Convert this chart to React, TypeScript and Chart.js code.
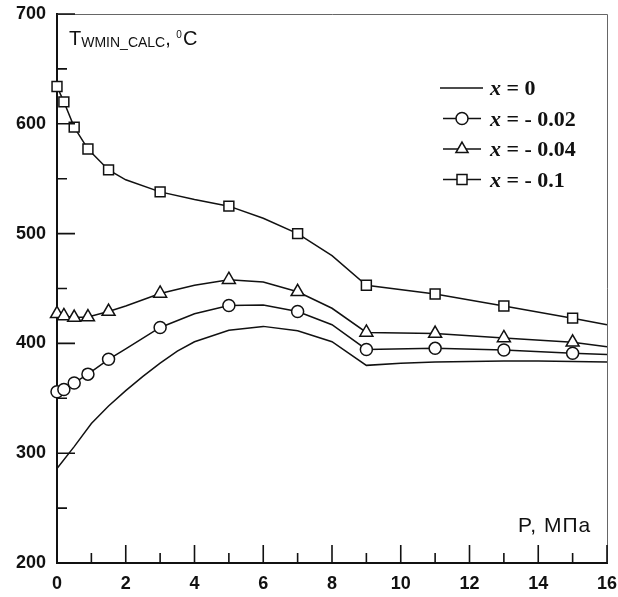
import React, { useEffect, useRef } from "react";
import { Chart, registerables } from "chart.js";

Chart.register(...registerables);

// Pressures (MPa) at which the marker curves were read
const pressure = [0, 0.2, 0.5, 0.9, 1.5, 2, 3, 4, 5, 6, 7, 8, 9, 11, 13, 15, 16];
// Pressures carrying a marker symbol
const markerPressures = [0, 0.2, 0.5, 0.9, 1.5, 3, 5, 7, 9, 11, 13, 15];
// x = -0.1 (squares)
const tSquare = [634, 620, 597, 577, 558, 549, 538, 531, 525, 514, 500, 480, 453, 445, 434, 423, 417];
// x = -0.04 (triangles)
const tTriangle = [427, 425, 423.5, 424, 429, 434, 445.5, 453, 458, 456, 447, 432, 410, 409, 405, 401, 397];
// x = -0.02 (circles)
const tCircle = [356, 358, 364, 372, 385.5, 395, 414.5, 427, 434.5, 435, 429, 417, 394.5, 395.5, 394, 391, 390];
// x = 0 (plain line)
const pressureLine0 = [0, 0.5, 1, 1.5, 2, 2.5, 3, 3.5, 4, 5, 6, 7, 8, 9, 10, 11, 12, 13, 14, 15, 16];
const tLine0 = [286, 306, 327, 343, 357, 370, 382, 393, 401.5, 412, 415.5, 411.5, 401.5, 380, 382, 383, 383.5, 384, 384, 383.5, 383];

const seriesValues = ["0", "- 0.02", "- 0.04", "- 0.1"];
const xTickValues = [0, 2, 4, 6, 8, 10, 12, 14, 16];
const yTickValues = [200, 300, 400, 500, 600, 700];
const yTitleMain = "T";
const yTitleSub = "WMIN_CALC";
const yTitleSup = "0";
const yTitleUnit = "C";
const xTitle = "P, МПа";

const INK = "#111";

function toPoints(xs: number[], ys: number[]) {
  return xs.map((x, i) => ({ x, y: ys[i] }));
}

function drawMarker(ctx: CanvasRenderingContext2D, style: string, x: number, y: number) {
  ctx.save();
  ctx.fillStyle = "#fff";
  ctx.strokeStyle = INK;
  ctx.lineWidth = 1.5;
  ctx.beginPath();
  if (style === "circle") {
    ctx.arc(x, y, 6, 0, Math.PI * 2);
  } else if (style === "triangle") {
    const r = 7;
    ctx.moveTo(x, y - r);
    ctx.lineTo(x + r * Math.sin(Math.PI / 3), y + r / 2);
    ctx.lineTo(x - r * Math.sin(Math.PI / 3), y + r / 2);
    ctx.closePath();
  } else if (style === "rect") {
    ctx.rect(x - 5, y - 5, 10, 10);
  }
  ctx.fill();
  ctx.stroke();
  ctx.restore();
}

const decorPlugin = {
  id: "decor",
  afterDatasetsDraw(chart: any) {
    const { ctx, chartArea } = chart;
    const xs = chart.scales.x;
    const ys = chart.scales.y;
    const { left, right, top, bottom } = chartArea;
    ctx.save();
    // top / right frame
    ctx.strokeStyle = "#666";
    ctx.lineWidth = 1;
    ctx.beginPath();
    ctx.moveTo(left, top + 0.5);
    ctx.lineTo(right + 0.5, top + 0.5);
    ctx.lineTo(right + 0.5, bottom);
    ctx.stroke();
    // inward ticks
    ctx.strokeStyle = INK;
    ctx.lineWidth = 1.6;
    ctx.beginPath();
    for (let v = 0; v <= 16; v += 1) {
      const px = xs.getPixelForValue(v);
      const len = v % 2 === 0 ? 18 : 10;
      ctx.moveTo(px, bottom);
      ctx.lineTo(px, bottom - len);
    }
    for (let v = 200; v <= 700; v += 50) {
      const py = ys.getPixelForValue(v);
      const len = v % 100 === 0 ? 18 : 10;
      ctx.moveTo(left, py);
      ctx.lineTo(left + len, py);
    }
    ctx.stroke();

    // y title
    ctx.fillStyle = INK;
    ctx.textBaseline = "alphabetic";
    ctx.textAlign = "left";
    let tx = left + 12;
    const ty = top + 31;
    ctx.font = "20px 'Liberation Sans', Arial, sans-serif";
    ctx.fillText(yTitleMain, tx, ty);
    tx += ctx.measureText(yTitleMain).width;
    ctx.font = "14px 'Liberation Sans', Arial, sans-serif";
    ctx.fillText(yTitleSub, tx, ty + 2);
    tx += ctx.measureText(yTitleSub).width;
    ctx.font = "20px 'Liberation Sans', Arial, sans-serif";
    ctx.fillText(", ", tx, ty);
    tx += ctx.measureText(", ").width;
    ctx.font = "10px 'Liberation Sans', Arial, sans-serif";
    ctx.fillText(yTitleSup, tx, ty - 7);
    tx += ctx.measureText(yTitleSup).width + 1;
    ctx.font = "20px 'Liberation Sans', Arial, sans-serif";
    ctx.fillText(yTitleUnit, tx, ty);

    // x title
    ctx.font = "21px 'Liberation Sans', Arial, sans-serif";
    (ctx as any).letterSpacing = "1px";
    ctx.fillText(xTitle, 518, bottom - 31);
    (ctx as any).letterSpacing = "0px";

    // legend
    const styles = ["none", "circle", "triangle", "rect"];
    const rowY = [88, 118.5, 149, 179.5];
    for (let i = 0; i < 4; i++) {
      const y = rowY[i];
      ctx.strokeStyle = INK;
      ctx.lineWidth = 1.5;
      ctx.beginPath();
      if (i === 0) {
        ctx.moveTo(440, y);
        ctx.lineTo(483, y);
      } else {
        ctx.moveTo(443, y);
        ctx.lineTo(481, y);
      }
      ctx.stroke();
      if (styles[i] !== "none") drawMarker(ctx, styles[i], 462, y);
      let lx = 490;
      ctx.fillStyle = INK;
      ctx.font = "italic bold 22px 'Liberation Serif', 'Times New Roman', serif";
      ctx.fillText("x", lx, y + 7);
      lx += ctx.measureText("x").width;
      ctx.font = "bold 22px 'Liberation Serif', 'Times New Roman', serif";
      ctx.fillText(" = " + seriesValues[i], lx, y + 7);
    }
    ctx.restore();
  },
};

function markerRadius(r: number) {
  return (c: any) => {
    const raw = c.raw;
    if (!raw) return 0;
    return markerPressures.includes(raw.x) ? r : 0;
  };
}

function zeroPadding(s: any) {
  s.paddingLeft = 0;
  s.paddingRight = 0;
  s.paddingTop = 0;
  s.paddingBottom = 0;
}

export default function App() {
  const ref = useRef<HTMLCanvasElement | null>(null);
  useEffect(() => {
    if (!ref.current) return;
    const common = {
      borderColor: INK,
      borderWidth: 1.5,
      pointBackgroundColor: "#fff",
      pointBorderColor: INK,
      pointBorderWidth: 1.5,
      tension: 0,
      clip: false as any,
      fill: false,
    };
    const tickFont = { family: "'Liberation Sans', Arial, sans-serif", size: 18, weight: "bold" };
    const chart = new Chart(ref.current, {
      type: "line",
      data: {
        datasets: [
          { ...common, label: "x = 0", data: toPoints(pressureLine0, tLine0), pointRadius: 0 },
          { ...common, label: "x = - 0.02", data: toPoints(pressure, tCircle), pointStyle: "circle", pointRadius: markerRadius(6) },
          { ...common, label: "x = - 0.04", data: toPoints(pressure, tTriangle), pointStyle: "triangle", pointRadius: markerRadius(7.5) },
          { ...common, label: "x = - 0.1", data: toPoints(pressure, tSquare), pointStyle: "rect", pointRadius: markerRadius(7) },
        ],
      },
      options: {
        animation: false,
        responsive: false,
        devicePixelRatio: 1,
        layout: { padding: { top: 14, right: 11, left: 0, bottom: 0 } },
        plugins: { legend: { display: false }, tooltip: { enabled: false } },
        elements: { point: { hoverRadius: 0 } },
        scales: {
          x: {
            type: "linear",
            min: 0,
            max: 16,
            afterFit: (s: any) => { s.height = 34; zeroPadding(s); },
            afterBuildTicks: (s: any) => { s.ticks = xTickValues.map((v) => ({ value: v })); },
            grid: { display: false, drawTicks: false },
            border: { display: true, color: INK, width: 2 },
            ticks: { autoSkip: false, maxRotation: 0, padding: 10, color: INK, font: tickFont },
          },
          y: {
            type: "linear",
            min: 200,
            max: 700,
            afterFit: (s: any) => { s.width = 57; zeroPadding(s); },
            afterBuildTicks: (s: any) => { s.ticks = yTickValues.map((v) => ({ value: v })); },
            grid: { display: false, drawTicks: false },
            border: { display: true, color: INK, width: 2 },
            ticks: { autoSkip: false, padding: 11, color: INK, font: tickFont },
          },
        },
      } as any,
      plugins: [decorPlugin],
    });
    return () => chart.destroy();
  }, []);
  return (
    <div style={{ position: "fixed", left: 0, top: 0, width: 618, height: 597, background: "#fff" }}>
      <canvas ref={ref} width={618} height={597} style={{ width: 618, height: 597, display: "block" }} />
    </div>
  );
}
